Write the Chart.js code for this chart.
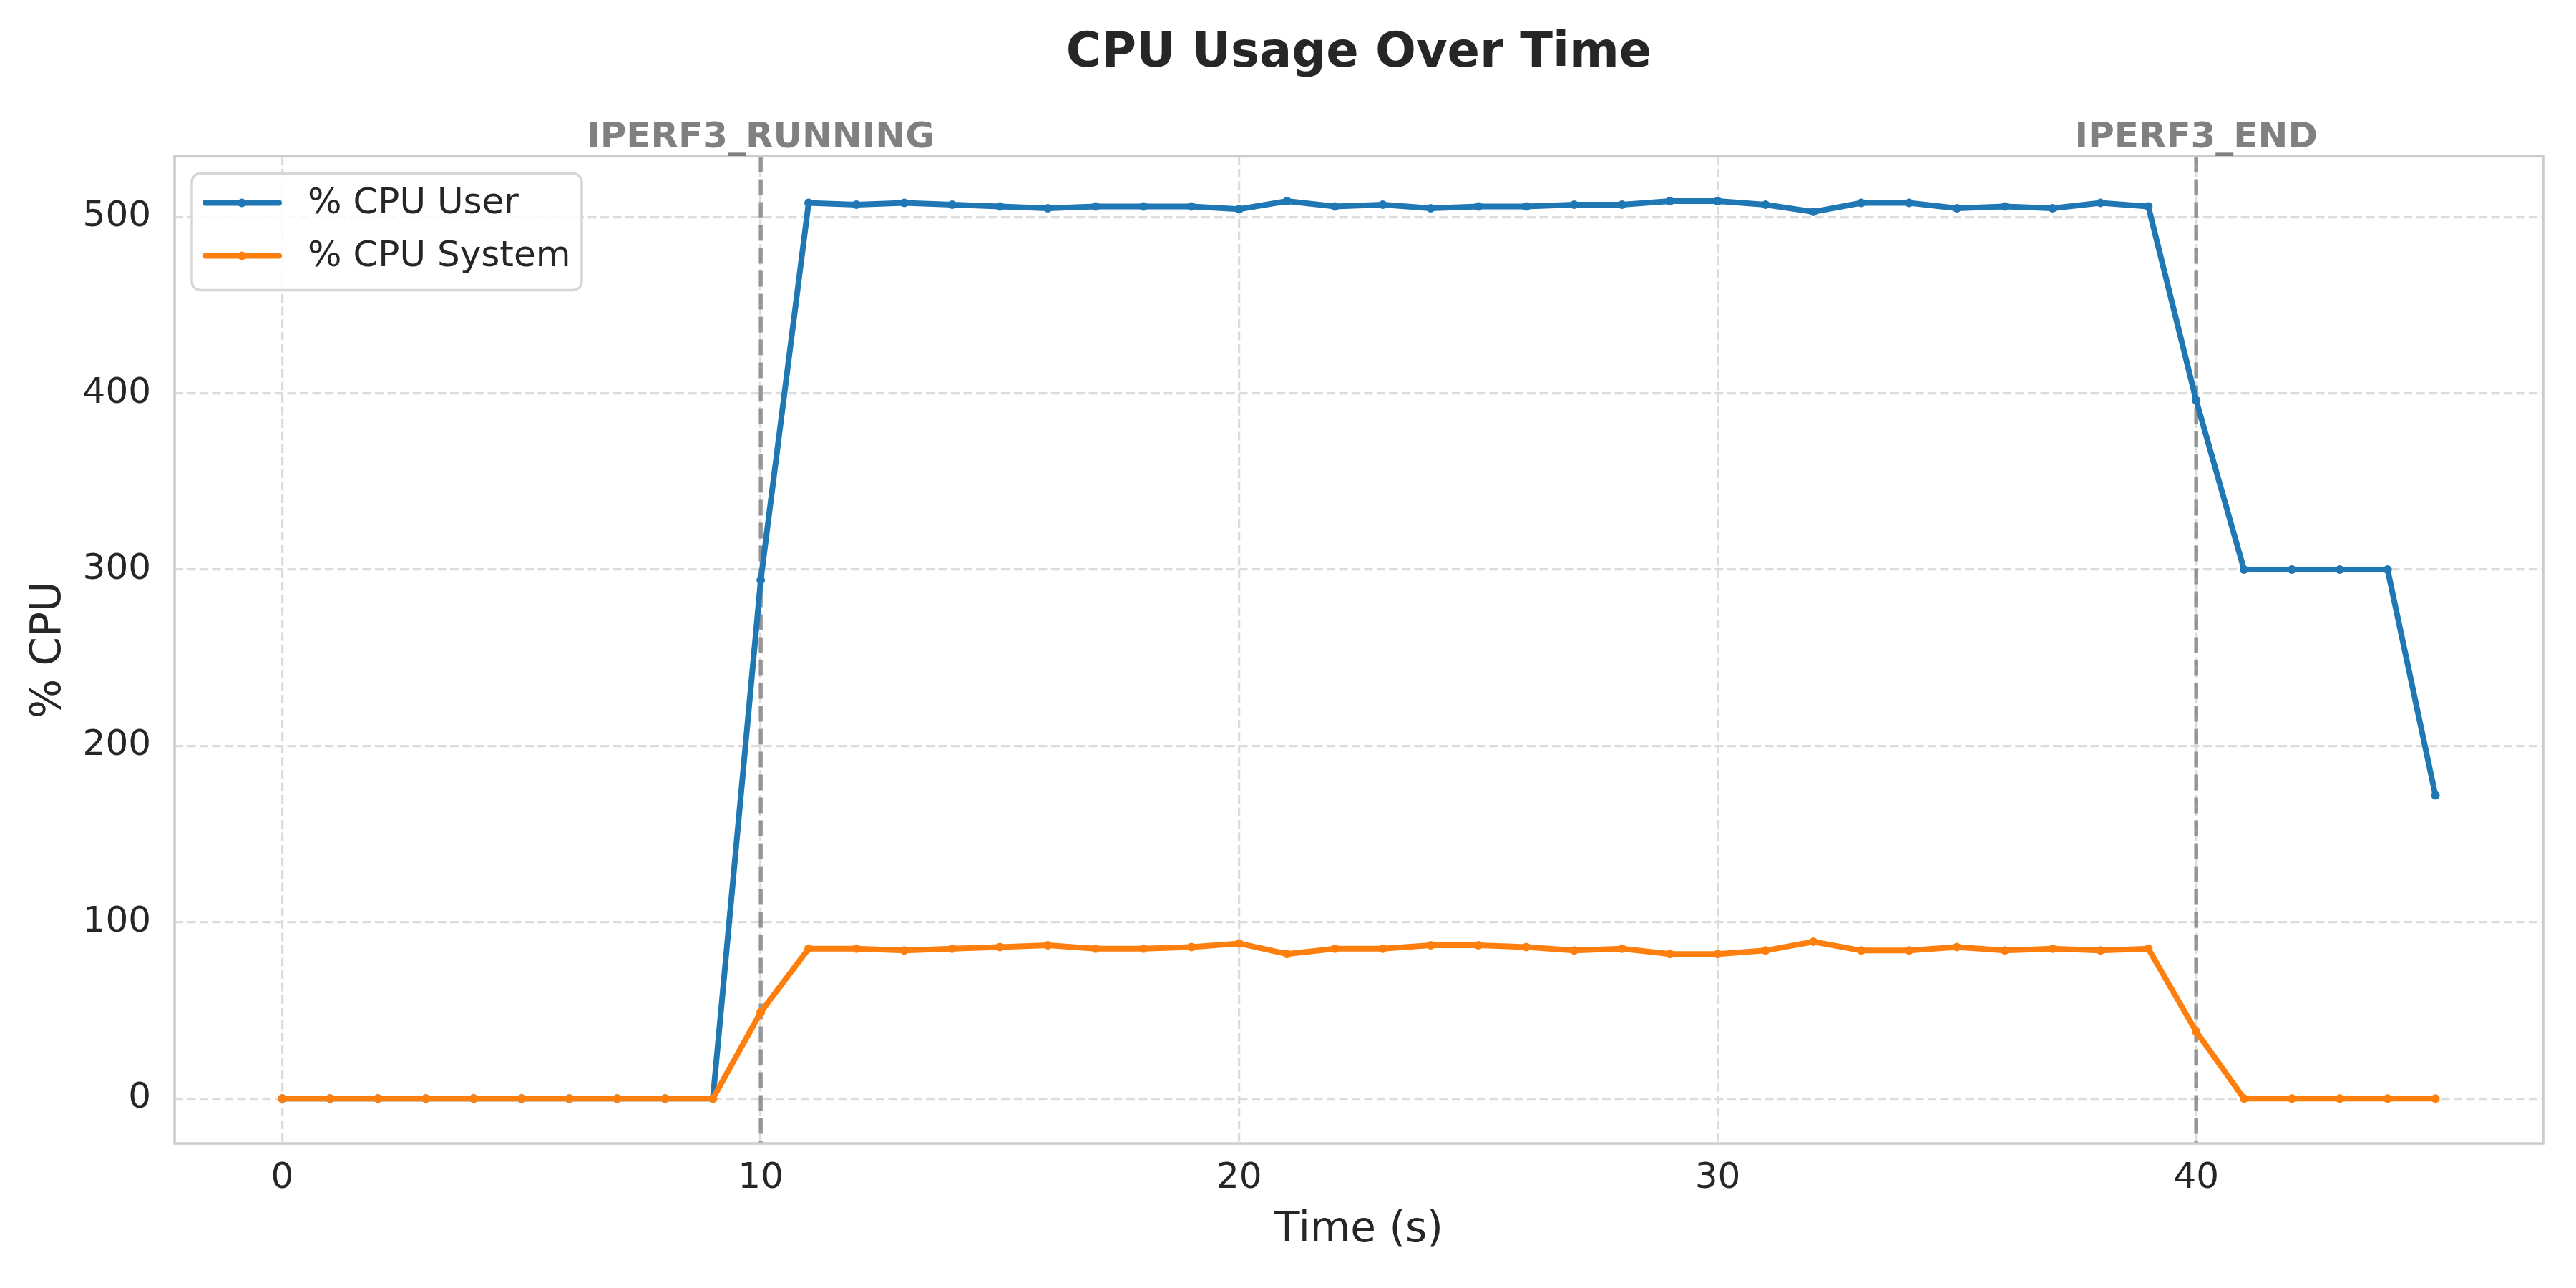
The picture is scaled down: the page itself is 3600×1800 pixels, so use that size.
<!DOCTYPE html>
<html>
<head>
<meta charset="utf-8">
<title>CPU Usage Over Time</title>
<script src="https://cdn.jsdelivr.net/npm/chart.js@4.4.1/dist/chart.umd.min.js"></script>
<style>
  html, body { margin: 0; padding: 0; background: #ffffff; }
  #chart { display: block; }
</style>
</head>
<body>
<canvas id="chart" width="3600" height="1800"></canvas>
<script>
// time axis (seconds)
const times = [
  0, 1, 2, 3, 4, 5, 6, 7, 8, 9,
  10, 11, 12, 13, 14, 15, 16, 17, 18, 19,
  20, 21, 22, 23, 24, 25, 26, 27, 28, 29,
  30, 31, 32, 33, 34, 35, 36, 37, 38, 39,
  40, 41, 42, 43, 44, 45
];

// % CPU user
const cpuUser = [
  0, 0, 0, 0, 0, 0, 0, 0, 0, 0,
  294, 508, 507, 508, 507, 506, 505, 506, 506, 506,
  504.5, 509, 506, 507, 505, 506, 506, 507, 507, 509,
  509, 507, 503, 508, 508, 505, 506, 505, 508, 506,
  396, 300, 300, 300, 300, 172
];

// % CPU system
const cpuSystem = [
  0, 0, 0, 0, 0, 0, 0, 0, 0, 0,
  49, 85, 85, 84, 85, 86, 87, 85, 85, 86,
  88, 82, 85, 85, 87, 87, 86, 84, 85, 82,
  82, 84, 89, 84, 84, 86, 84, 85, 84, 85,
  38, 0, 0, 0, 0, 0
];

const seriesNames = ["% CPU User", "% CPU System"];
const seriesColors = ["#1f77b4", "#ff7f0e"];

// event markers
const eventTimes = [10, 40];
const eventLabels = ["IPERF3_RUNNING", "IPERF3_END"];

// tick labels
const xTicks = [0, 10, 20, 30, 40];
const yTicks = [0, 100, 200, 300, 400, 500];

const TEXT = "#262626";
const FONT = "'DejaVu Sans', sans-serif";

// matplotlib-like 5% margins
function padRange(vals) {
  const lo = Math.min(...vals), hi = Math.max(...vals);
  const m = (hi - lo) * 0.05;
  return [lo - m, hi + m];
}
const [xMin, xMax] = padRange(times);
const [yMin, yMax] = padRange(cpuUser.concat(cpuSystem));

function toPoints(vals) {
  return vals.map((v, i) => ({ x: times[i], y: v }));
}

//event lines, frame, legend and event labels
const decorPlugin = {
  id: "decor",
  beforeDatasetsDraw(chart) {
    const { ctx, chartArea, scales } = chart;
    ctx.save();
    ctx.strokeStyle = "rgba(128,128,128,0.8)";
    ctx.lineWidth = 5.5;
    ctx.setLineDash([22, 10]);
    eventTimes.forEach((t) => {
      const px = scales.x.getPixelForValue(t);
      ctx.beginPath();
      ctx.moveTo(px, chartArea.top);
      ctx.lineTo(px, chartArea.bottom);
      ctx.stroke();
    });
    ctx.restore();
  },
  afterDatasetsDraw(chart) {
    const { ctx, chartArea, scales } = chart;
    ctx.save();

    // spines
    ctx.strokeStyle = "#cccccc";
    ctx.lineWidth = 3.5;
    ctx.strokeRect(
      chartArea.left,
      chartArea.top,
      chartArea.right - chartArea.left,
      chartArea.bottom - chartArea.top
    );

    // event labels above the plot
    ctx.fillStyle = "#808080";
    ctx.font = "bold 50px " + FONT;
    ctx.textAlign = "center";
    ctx.textBaseline = "alphabetic";
    eventTimes.forEach((t, i) => {
      ctx.fillText(eventLabels[i], scales.x.getPixelForValue(t), chartArea.top - 12);
    });

    // legend box
    const lx = chartArea.left + 24, ly = chartArea.top + 24;
    const lw = 545, lh = 163, r = 12;
    ctx.beginPath();
    ctx.roundRect(lx, ly, lw, lh, r);
    ctx.fillStyle = "rgba(255,255,255,0.85)";
    ctx.fill();
    ctx.strokeStyle = "#d6d6d6";
    ctx.lineWidth = 3.5;
    ctx.stroke();

    ctx.font = "50px " + FONT;
    ctx.textAlign = "left";
    ctx.textBaseline = "middle";
    seriesNames.forEach((name, i) => {
      const cy = ly + 41 + i * 74;
      ctx.strokeStyle = seriesColors[i];
      ctx.lineWidth = 8;
      ctx.lineCap = "round";
      ctx.beginPath();
      ctx.moveTo(lx + 19, cy);
      ctx.lineTo(lx + 122, cy);
      ctx.stroke();
      ctx.fillStyle = seriesColors[i];
      ctx.beginPath();
      ctx.arc(lx + 70, cy, 6, 0, Math.PI * 2);
      ctx.fill();
      ctx.fillStyle = TEXT;
      ctx.fillText(name, lx + 162, cy + 2);
    });
    ctx.restore();
  }
};

const ctx = document.getElementById("chart").getContext("2d");
Chart.defaults.font.family = FONT;
Chart.defaults.color = TEXT;

const gridOpts = {
  color: "#dcdcdc",
  lineWidth: 3.3,
  drawTicks: false
};

new Chart(ctx, {
  type: "line",
  data: {
    datasets: [
      {
        label: seriesNames[0],
        data: toPoints(cpuUser),
        borderColor: seriesColors[0],
        backgroundColor: seriesColors[0],
        borderWidth: 8,
        pointRadius: 6,
        pointBorderWidth: 0,
        tension: 0,
        order: 1
      },
      {
        label: seriesNames[1],
        data: toPoints(cpuSystem),
        borderColor: seriesColors[1],
        backgroundColor: seriesColors[1],
        borderWidth: 8,
        pointRadius: 6,
        pointBorderWidth: 0,
        tension: 0,
        order: 0
      }
    ]
  },
  options: {
    responsive: false,
    animation: false,
    layout: { padding: { left: 0, right: 46, top: 0, bottom: 0 } },
    plugins: {
      legend: { display: false },
      tooltip: { enabled: false },
      title: {
        display: true,
        text: "CPU Usage Over Time",
        fullSize: false,
        color: TEXT,
        font: { size: 67, weight: "bold" },
        padding: { top: 35, bottom: 103 }
      }
    },
    scales: {
      x: {
        type: "linear",
        min: xMin,
        max: xMax,
        afterBuildTicks: (scale) => {
          scale.ticks = xTicks.map((v) => ({ value: v }));
        },
        afterFit: (scale) => {
          scale.height = 202;
        },
        grid: gridOpts,
        border: { display: false, dash: [12, 5.5] },
        ticks: {
          color: TEXT,
          font: { size: 50 },
          padding: 19,
          maxRotation: 0,
          callback: (v) => String(v)
        },
        title: {
          display: true,
          text: "Time (s)",
          color: TEXT,
          font: { size: 58 },
          padding: { top: 0, bottom: 45 }
        }
      },
      y: {
        type: "linear",
        min: yMin,
        max: yMax,
        afterBuildTicks: (scale) => {
          scale.ticks = yTicks.map((v) => ({ value: v }));
        },
        afterFit: (scale) => {
          scale.width = 244;
        },
        grid: gridOpts,
        border: { display: false, dash: [12, 5.5] },
        ticks: {
          color: TEXT,
          font: { size: 50 },
          padding: 33,
          callback: (v) => String(v)
        },
        title: {
          display: true,
          text: "% CPU",
          color: TEXT,
          font: { size: 58 },
          padding: { top: 34, bottom: 0 }
        }
      }
    }
  },
  plugins: [decorPlugin]
});
</script>
</body>
</html>
